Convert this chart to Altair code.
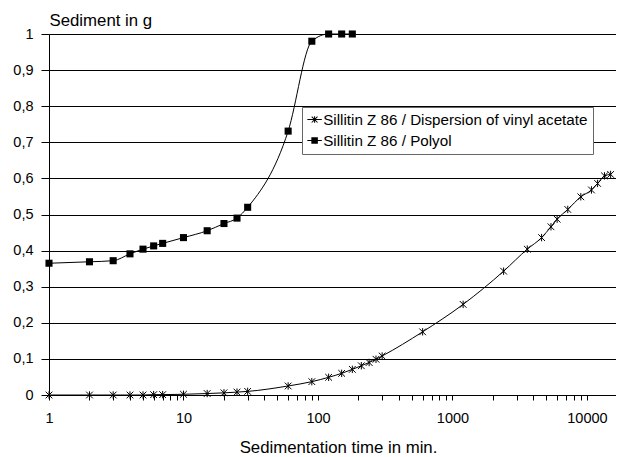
import altair as alt
import pandas as pd

series_names = [
    "Sillitin Z 86 / Dispersion of vinyl acetate",
    "Sillitin Z 86 / Polyol",
]

# Sillitin Z 86 / Dispersion of vinyl acetate
va_time = [1, 2, 3, 4, 5, 6, 7, 10, 15, 20, 25, 30, 60, 90, 120, 150, 180, 210, 240,
           270, 300, 600, 1200, 2400, 3600, 4600, 5400, 6000, 7200, 9000, 10800,
           12000, 13500, 15000]
va_sediment = [0, 0, 0, 0, 0, 0.001, 0.001, 0.002, 0.004, 0.006, 0.008, 0.01, 0.025,
               0.037, 0.049, 0.06, 0.071, 0.081, 0.09, 0.099, 0.108, 0.175, 0.251,
               0.343, 0.404, 0.436, 0.466, 0.487, 0.514, 0.549, 0.568, 0.586, 0.607,
               0.611]

# Sillitin Z 86 / Polyol
po_time = [1, 2, 3, 4, 5, 6, 7, 10, 15, 20, 25, 30, 60, 90, 120, 150, 180]
po_sediment = [0.365, 0.369, 0.372, 0.391, 0.404, 0.413, 0.420, 0.436, 0.455, 0.475,
               0.490, 0.520, 0.731, 0.980, 1.0, 1.0, 1.0]

x_ticks = [1, 2, 3, 4, 5, 6, 7, 8, 9,
           10, 20, 30, 40, 50, 60, 70, 80, 90,
           100, 200, 300, 400, 500, 600, 700, 800, 900,
           1000, 2000, 3000, 4000, 5000, 6000, 7000, 8000, 9000,
           10000]
x_labels = [1, 10, 100, 1000, 10000]
y_ticks = [0, 0.1, 0.2, 0.3, 0.4, 0.5, 0.6, 0.7, 0.8, 0.9, 1.0]

df = pd.concat([
    pd.DataFrame({"time": va_time, "sediment": va_sediment, "series": series_names[0]}),
    pd.DataFrame({"time": po_time, "sediment": po_sediment, "series": series_names[1]}),
], ignore_index=True)

FONT = "Liberation Sans"
ASTERISK = "M-1,-1L1,1M-1,1L1,-1M0,-1.1V1.1"
# legend symbols built only from filled sub-shapes: a thin bar with the marker on it
LEG_AST = ("M-1,-0.07H1V0.07H-1Z"
           "M-0.07,-0.45H0.07V0.45H-0.07Z"
           "M-0.35,-0.45L0.45,0.35L0.35,0.45L-0.45,-0.35Z"
           "M-0.45,0.35L0.35,-0.45L0.45,-0.35L-0.35,0.45Z")
LEG_SQ = "M-1,-0.07H1V0.07H-1ZM-0.45,-0.45H0.45V0.45H-0.45Z"

x_label_list = "[" + ",".join(str(v) for v in x_labels) + "]"

x_enc = alt.X(
    "time:Q",
    scale=alt.Scale(type="log", domain=[1, 16440], nice=False),
    title="Sedimentation time in min.",
    axis=alt.Axis(
        values=x_ticks,
        labelExpr=f"indexof({x_label_list}, datum.value) >= 0 ? format(datum.value, 'd') : ''",
        labelOverlap=False, labelFlush=False, grid=False,
        domainColor="black", domainWidth=1, tickColor="black", tickSize=5, tickWidth=1,
        labelFont=FONT, labelFontSize=14.5, labelColor="black", labelPadding=11,
        titleFont=FONT, titleFontSize=16.8, titleFontWeight="normal", titleColor="black",
        titleX=289, titleY=57, titleBaseline="alphabetic", titleAlign="center",
    ),
)
y_enc = alt.Y(
    "sediment:Q",
    scale=alt.Scale(domain=[0, 1], nice=False),
    title="Sediment in g",
    axis=alt.Axis(
        values=y_ticks,
        labelExpr="replace(format(datum.value, '.1~f'), '.', ',')",
        grid=True, gridColor="black", gridWidth=1, gridOpacity=1,
        domainColor="black", domainWidth=1, tickColor="black", tickSize=8, tickWidth=1,
        labelFont=FONT, labelFontSize=14.5, labelColor="black", labelPadding=8,
        titleFont=FONT, titleFontSize=16.8, titleFontWeight="normal", titleColor="black",
        titleAngle=0, titleX=0, titleY=-8.5, titleAlign="left", titleBaseline="alphabetic",
    ),
)

base = alt.Chart(df)

lines = base.mark_line(color="black", strokeWidth=1, interpolate="monotone").encode(
    x=x_enc, y=y_enc, detail="series:N"
)

va_points = base.transform_filter(alt.datum.series == series_names[0]).mark_point(
    shape=ASTERISK, size=45, filled=False, color="black", strokeWidth=1, opacity=1
).encode(x=x_enc, y=y_enc)

po_points = base.transform_filter(alt.datum.series == series_names[1]).mark_point(
    shape="square", size=50, filled=True, color="black", opacity=1
).encode(x=x_enc, y=y_enc)

# invisible layer that only carries the legend (symbols with a line through them)
legend_layer = base.mark_point(filled=True, color="black", opacity=0).encode(
    x=x_enc, y=y_enc,
    shape=alt.Shape(
        "series:N",
        scale=alt.Scale(domain=series_names, range=[LEG_AST, LEG_SQ]),
        legend=alt.Legend(
            title=None, orient="none", legendX=253, legendY=73, direction="vertical",
            fillColor="white", strokeColor="#666666", padding=5, rowPadding=5,
            symbolSize=210, symbolStrokeWidth=0, symbolOpacity=1,
            symbolFillColor="black",
            labelFont=FONT, labelFontSize=15.2, labelColor="black", labelOffset=1,
            labelExpr="datum.label + '" + "\u00a0" * 14 + "'",
            labelLimit=0,
        ),
    ),
)

chart = alt.layer(lines, va_points, po_points, legend_layer).properties(
    width=567, height=361,
    autosize=alt.AutoSizeParams(type="none"),
    padding={"left": 41, "top": 26, "right": 0, "bottom": 62},
).configure_view(stroke=None).configure(background="white")

chart.save("out.html", embed_options={"renderer": "svg", "actions": False})
